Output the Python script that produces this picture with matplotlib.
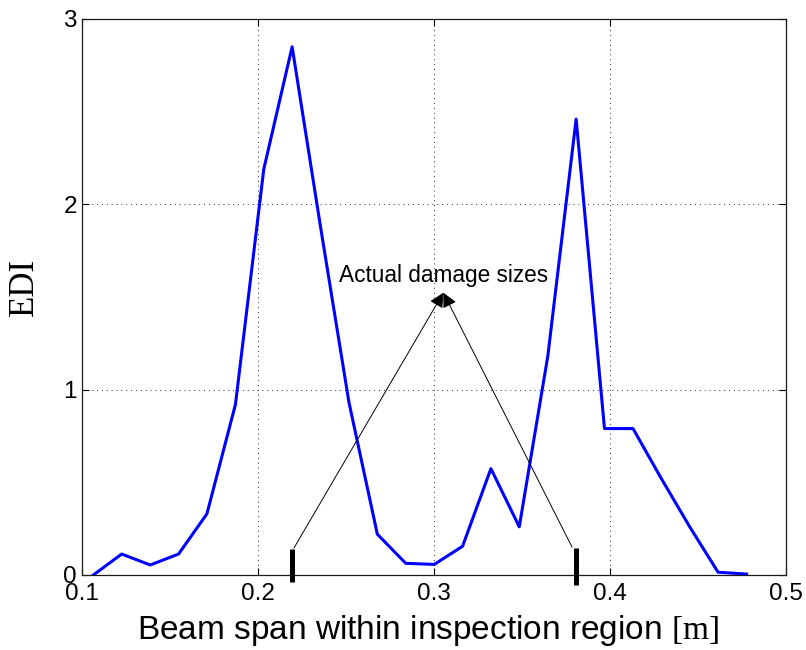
import matplotlib
matplotlib.use("Agg")
import matplotlib.pyplot as plt

plt.rcParams['mathtext.fontset'] = 'custom'
plt.rcParams['mathtext.rm'] = 'Liberation Serif'

# Data
x_span = [0.1066, 0.1227, 0.1389, 0.1550, 0.1711, 0.1873, 0.2034, 0.2195,
          0.2356, 0.2518, 0.2679, 0.2840, 0.3002, 0.3163, 0.3324, 0.3485,
          0.3647, 0.3808, 0.3969, 0.4131, 0.4292, 0.4453, 0.4614, 0.4776]
edi = [0.0, 0.113, 0.054, 0.113, 0.33, 0.92, 2.19, 2.85,
       1.88, 0.93, 0.22, 0.063, 0.057, 0.155, 0.574, 0.26,
       1.18, 2.46, 0.79, 0.79, 0.52, 0.26, 0.015, 0.005]

damage_x = [0.2195, 0.3805]
damage_y0 = [-0.036, -0.054]
damage_y1 = [0.14, 0.145]
arrow_start = [(0.2205, 0.145), (0.3785, 0.15)]
arrow_tip = (0.3054, 1.523)
annot_text = "Actual damage sizes"
annot_pos = (0.3056, 1.582)

xticks = [0.1, 0.2, 0.3, 0.4, 0.5]
xticklabels = ["0.1", "0.2", "0.3", "0.4", "0.5"]
yticks = [0, 1, 2, 3]
yticklabels = ["0", "1", "2", "3"]

fig = plt.figure(figsize=(8.06, 6.5), dpi=100)
ax = fig.add_axes([0.1014, 0.1154, 0.8738, 0.8554])

ax.plot(x_span, edi, color=(0, 0, 1), lw=2.2, zorder=3)

for xd, y0, y1 in zip(damage_x, damage_y0, damage_y1):
    ax.plot([xd, xd], [y0, y1], color='k', lw=3.6, solid_capstyle='butt',
            clip_on=False, zorder=4)

for start in arrow_start:
    ax.annotate('', xy=arrow_tip, xytext=start,
                arrowprops=dict(arrowstyle='-|>', color='k', lw=0.7,
                                mutation_scale=22, shrinkA=0, shrinkB=0),
                zorder=5)

ax.text(annot_pos[0], annot_pos[1], annot_text, ha='center', va='baseline',
        fontsize=16.3, family='Liberation Sans', color='k', zorder=6)

ax.set_xlim(0.1, 0.5)
ax.set_ylim(0, 3)
ax.set_xticks(xticks)
ax.set_xticklabels(xticklabels, family='Liberation Sans', fontsize=17.5)
ax.set_yticks(yticks)
ax.set_yticklabels(yticklabels, family='Liberation Sans', fontsize=17.5)
ax.tick_params(axis='both', direction='in', length=5, width=0.8,
               top=True, right=True, colors='k')
ax.tick_params(axis='x', pad=6)
ax.tick_params(axis='y', pad=3.5)

ax.grid(True, linestyle=(0, (1, 4)), color='0.15', linewidth=0.7)
ax.set_axisbelow(True)
for s in ax.spines.values():
    s.set_linewidth(0.9)
    s.set_color('0.1')

ax.set_xlabel(r"Beam span within inspection region $\mathrm{[m]}$",
              family='Liberation Sans', fontsize=24, va='baseline')
ax.xaxis.set_label_coords(0.491, -0.1151)
ax.set_ylabel("EDI", family='Liberation Serif', fontsize=25, va='center')
ax.yaxis.set_label_coords(-0.081, 0.518)

fig.savefig("out.png", dpi=100)
